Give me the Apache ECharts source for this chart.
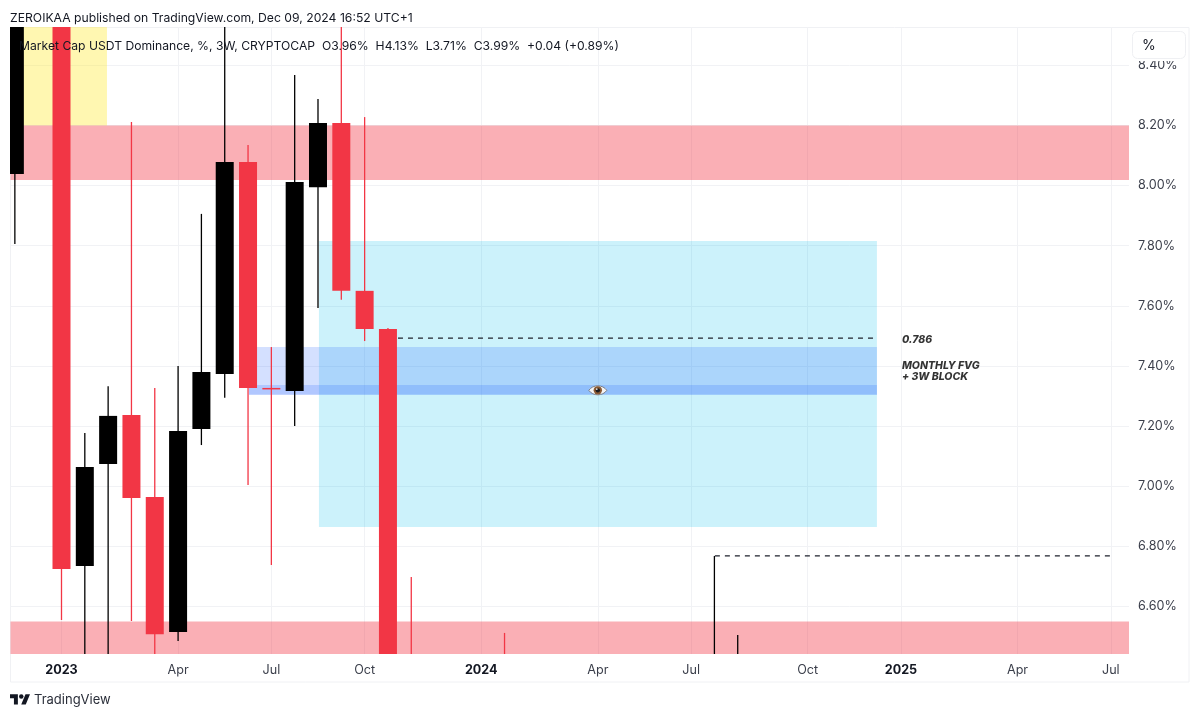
<!DOCTYPE html>
<html>
<head>
<meta charset="utf-8">
<title>USDT Dominance, 3W</title>
<style>html,body{margin:0;padding:0;background:#fff}#chart{width:1200px;height:718px}</style>
<script src="https://cdn.jsdelivr.net/npm/echarts@6/dist/echarts.min.js"></script>
</head>
<body>
<div id="chart"></div>
<script>
// Bars are numbered in 3-week steps, bar 0 being the first one of 2023.
const barIndex = [-2, 0, 1, 2, 3, 4, 5, 6, 7, 8, 9, 10, 11, 12, 13, 14, 15, 19, 28, 29];
const opens  = [8.039, 8.62, 6.735, 7.074, 7.237, 6.964, 6.515, 7.19, 7.373, 8.079, 7.327, 7.317, 7.995, 8.208, 7.65, 7.523, 6.38, 6.40, 6.36, 6.36];
const closes = [8.62, 6.725, 7.064, 7.234, 6.961, 6.508, 7.184, 7.38, 8.079, 7.327, 7.325, 8.012, 8.208, 7.65, 7.523, 6.39, 6.36, 6.38, 6.38, 6.38];
const lows   = [7.806, 6.555, 6.40, 6.40, 6.552, 6.40, 6.485, 7.137, 7.294, 7.004, 6.738, 7.20, 7.593, 7.62, 7.483, 6.38, 6.35, 6.37, 6.35, 6.35];
const highs  = [8.70, 8.70, 7.177, 7.333, 8.212, 7.327, 7.40, 7.906, 8.60, 8.135, 7.463, 8.368, 8.288, 8.60, 8.228, 7.526, 6.698, 6.512, 6.768, 6.505];

// Time axis: bar positions of the labelled months.
const timeTicks = [0, 5, 9, 13, 18, 23, 27, 32, 36, 41, 45];
const timeLabels = ['2023', 'Apr', 'Jul', 'Oct', '2024', 'Apr', 'Jul', 'Oct', '2025', 'Apr', 'Jul'];
const yearLabels = ['2023', '2024', '2025'];
const priceTicks = [6.6, 6.8, 7.0, 7.2, 7.4, 7.6, 7.8, 8.0, 8.2, 8.4];

const xMin = -2.187, xMax = 45.78, yMin = 6.4419, yMax = 8.5277;

// Shaded zones: [startBar, endBar, lowPrice, highPrice, colour].
const yellowZone = [xMin, 1.95, 8.20, yMax, 'rgba(255,235,59,0.4)'];
const upperSupply = [xMin, xMax, 8.019, 8.20, 'rgba(242,54,69,0.4)'];
const lowerDemand = [xMin, xMax, yMin, 6.55, 'rgba(242,54,69,0.4)'];
const cyanBox = [11.04, 34.97, 6.864, 7.816, 'rgba(0,190,235,0.2)'];
const fvgZone = [8.04, 34.97, 7.304, 7.463, 'rgba(41,98,255,0.2)'];
const blockZone = [8.04, 34.97, 7.304, 7.337, 'rgba(41,98,255,0.2)'];

const fibLine = [[14.43, 7.493], [34.97, 7.493]];
const targetLine = [[28.02, 6.768], [45.05, 6.768]];
const eyeMark = [[23.0, 7.319]];
const notes = [[36.04, 7.486, '0.786'], [36.04, 7.402, 'MONTHLY FVG'], [36.04, 7.365, '+ 3W BLOCK']];

const FONT = 'Inter, "Noto Sans", sans-serif';
const RED = '#F23645';
const INK = '#131722';
const BODY_WIDTH = 18;
const WICK_WIDTH = 1.3;

const chart = echarts.init(document.getElementById('chart'), null, { renderer: 'canvas' });

function renderZone(params, api) {
  const a = api.coord([api.value(0), api.value(3)]);
  const b = api.coord([api.value(1), api.value(2)]);
  return {
    type: 'rect',
    shape: { x: a[0], y: a[1], width: b[0] - a[0], height: b[1] - a[1] },
    style: { fill: api.value(4) }
  };
}

// One bar: a thin wick from low to high with the open/close body on top.
function renderBar(params, api) {
  const x = api.value(0);
  const open = api.value(1);
  const close = api.value(2);
  const colour = close > open ? '#000000' : RED;
  const low = api.coord([x, api.value(3)]);
  const high = api.coord([x, api.value(4)]);
  const top = api.coord([x, Math.max(open, close)]);
  const bottom = api.coord([x, Math.min(open, close)]);
  return {
    type: 'group',
    children: [
      { type: 'rect',
        shape: { x: low[0] - WICK_WIDTH / 2, y: high[1], width: WICK_WIDTH, height: low[1] - high[1] },
        style: { fill: colour } },
      { type: 'rect',
        shape: { x: top[0] - BODY_WIDTH / 2, y: top[1], width: BODY_WIDTH, height: Math.max(bottom[1] - top[1], 1.5) },
        style: { fill: colour } }
    ]
  };
}

function renderEye(params, api) {
  const c = api.coord([api.value(0), api.value(1)]);
  return {
    type: 'group',
    x: c[0],
    y: c[1],
    children: [
      { type: 'path',
        shape: { pathData: 'M-9 0C-5 -6 5 -6 9 0C5 6 -5 6 -9 0Z', x: -9, y: -5, width: 18, height: 10 },
        style: { fill: '#f4f5f7', stroke: '#7b8088', lineWidth: 1 } },
      { type: 'circle', shape: { cx: 0, cy: 0, r: 4.2 }, style: { fill: '#8a5a34' } },
      { type: 'circle', shape: { cx: 0, cy: 0, r: 2.2 }, style: { fill: '#1c1c1f' } },
      { type: 'circle', shape: { cx: -1, cy: -1.2, r: 0.8 }, style: { fill: '#ffffff' } }
    ]
  };
}

chart.setOption({
  animation: false,
  backgroundColor: '#ffffff',
  textStyle: { fontFamily: FONT },
  grid: { left: 10.5, right: 71, top: 27, bottom: 64, containLabel: false },
  xAxis: {
    type: 'value',
    min: xMin,
    max: xMax,
    axisLine: { show: false },
    axisTick: { show: false, customValues: timeTicks },
    splitLine: { show: true, lineStyle: { color: '#f1f2f5', width: 1 } },
    axisLabel: {
      customValues: timeTicks,
      margin: 10,
      color: '#3a3e4a',
      fontSize: 12.6,
      fontFamily: FONT,
      showMinLabel: true,
      showMaxLabel: true,
      formatter: function (v) {
        const text = timeLabels[timeTicks.indexOf(Math.round(v))];
        return yearLabels.indexOf(text) >= 0 ? '{year|' + text + '}' : text;
      },
      rich: { year: { fontWeight: 'bold', fontSize: 12.6, color: INK, fontFamily: FONT } }
    }
  },
  yAxis: {
    type: 'value',
    position: 'right',
    min: yMin,
    max: yMax,
    axisLine: { show: false },
    axisTick: { show: false, customValues: priceTicks },
    splitLine: { show: true, lineStyle: { color: '#f1f2f5', width: 1 } },
    axisLabel: {
      customValues: priceTicks,
      margin: 9,
      padding: [3, 0, 0, 0],
      color: '#3a3e4a',
      fontSize: 12.6,
      fontFamily: FONT,
      formatter: function (v) { return v.toFixed(2) + '%'; }
    }
  },
  series: [
    {
      type: 'custom',
      name: 'zones',
      coordinateSystem: 'cartesian2d',
      clip: true,
      z: 1,
      silent: true,
      renderItem: renderZone,
      encode: { x: [0, 1], y: [2, 3] },
      data: [yellowZone, upperSupply, lowerDemand, cyanBox, fvgZone, blockZone]
    },
    {
      type: 'custom',
      name: 'USDT Dominance',
      coordinateSystem: 'cartesian2d',
      clip: true,
      z: 3,
      renderItem: renderBar,
      encode: { x: 0, y: [1, 2, 3, 4] },
      data: barIndex.map((x, i) => [x, opens[i], closes[i], lows[i], highs[i]])
    },
    {
      type: 'line',
      name: 'fib',
      z: 4,
      symbol: 'none',
      lineStyle: { color: '#1e222d', width: 1.3, type: [5, 5] },
      data: fibLine
    },
    {
      type: 'line',
      name: 'target',
      z: 4,
      symbol: 'none',
      lineStyle: { color: '#1e222d', width: 1.3, type: [5, 5] },
      data: targetLine
    },
    {
      type: 'custom',
      name: 'eye',
      coordinateSystem: 'cartesian2d',
      z: 5,
      silent: true,
      renderItem: renderEye,
      data: eyeMark
    },
    {
      type: 'scatter',
      name: 'notes',
      z: 5,
      symbolSize: 0,
      silent: true,
      label: {
        show: true,
        position: 'right',
        distance: 0,
        formatter: p => p.value[2],
        color: '#000000',
        fontFamily: FONT,
        fontStyle: 'italic',
        fontWeight: 800,
        fontSize: 10.5
      },
      data: notes
    }
  ],
  graphic: [
    { type: 'rect', z: 0, silent: true, shape: { x: 10.5, y: 27.5, width: 1178.5, height: 654.5 },
      style: { fill: 'none', stroke: '#f0f1f4', lineWidth: 1 } },
    { type: 'text', z: 50, x: 10, y: 12.5, style: { text: 'ZEROIKAA published on TradingView.com, Dec 09, 2024 16:52 UTC+1', font: '12.2px ' + FONT, fill: INK } },
    { type: 'text', z: 50, x: 19, y: 40, style: { text: 'Market Cap USDT Dominance, %, 3W, CRYPTOCAP  O3.96%  H4.13%  L3.71%  C3.99%  +0.04 (+0.89%)', font: '12.15px ' + FONT, fill: INK } },
    { type: 'rect', z: 49, shape: { x: 1133, y: 56, width: 52, height: 5 }, style: { fill: '#ffffff' } },
    { type: 'rect', z: 50, shape: { x: 1132.5, y: 31.5, width: 53, height: 27, r: 5 }, style: { fill: '#ffffff', stroke: '#eff0f3', lineWidth: 1 } },
    { type: 'text', z: 51, x: 1142, y: 38.5, style: { text: '%', font: '14px ' + FONT, fill: INK } },
    { type: 'group', z: 50, x: 10, y: 692, scaleX: 0.563, scaleY: 0.563, children: [
      { type: 'polygon', shape: { points: [[14, 22], [7, 22], [7, 11], [0, 11], [0, 4], [14, 4]] }, style: { fill: '#131722' } },
      { type: 'polygon', shape: { points: [[28, 22], [20, 22], [27.5, 4], [35.5, 4]] }, style: { fill: '#131722' } },
      { type: 'circle', shape: { cx: 20, cy: 8, r: 4 }, style: { fill: '#131722' } }
    ] },
    { type: 'text', z: 50, x: 34, y: 694, style: { text: 'TradingView', font: '13px ' + FONT, fill: '#2a2e39' } }
  ]
});
</script>
</body>
</html>
